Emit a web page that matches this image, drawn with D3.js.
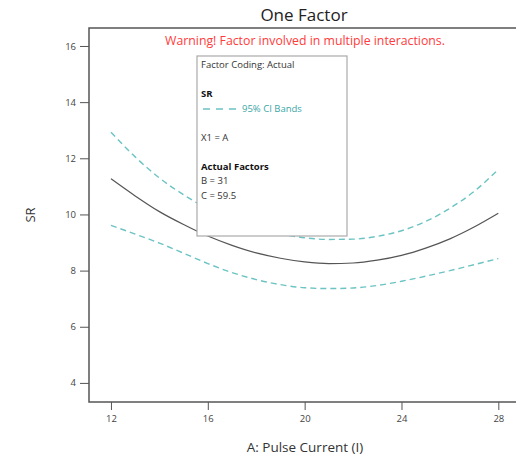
<!DOCTYPE html>
<html lang="en">
<head>
<meta charset="UTF-8" />
<title>One Factor</title>
<script src="https://cdn.jsdelivr.net/npm/d3@7"></script>
<style>
  body { margin: 0; background: #fff; }
  svg { font-family: "Open Sans", "DejaVu Sans", sans-serif; }
</style>
</head>
<body>
<script>
// data
var xValues = [12, 13, 14, 15, 16, 17, 18, 19, 20, 21, 22, 23, 24, 25, 26, 27, 28];
var srMean  = [11.27, 10.66, 10.1, 9.64, 9.23, 8.9, 8.63, 8.44, 8.31, 8.25, 8.27, 8.37, 8.54, 8.8, 9.13, 9.55, 10.04];
var ciUpper = [12.93, 12.05, 11.3, 10.7, 10.2, 9.82, 9.52, 9.31, 9.17, 9.11, 9.12, 9.22, 9.42, 9.75, 10.22, 10.82, 11.6];
var ciLower = [9.61, 9.3, 8.98, 8.62, 8.25, 7.93, 7.68, 7.5, 7.39, 7.36, 7.38, 7.47, 7.62, 7.8, 8.0, 8.21, 8.43];
var xTicks = [12, 16, 20, 24, 28];
var yTicks = [4, 6, 8, 10, 12, 14, 16];
var legendLines = ["Factor Coding: Actual", "SR", "95% CI Bands", "X1 = A", "Actual Factors", "B = 31", "C = 59.5"];

var w = 516, h = 457;
var margin = { top: 28, right: 0, bottom: 55, left: 89 };

var svg = d3.select("body").append("svg")
    .attr("width", w)
    .attr("height", h);

// scales
var xScale = d3.scaleLinear()
    .domain([11.093, 28.73])
    .range([margin.left, w - margin.right]);
var yScale = d3.scaleLinear()
    .domain([3.32, 16.64])
    .range([h - margin.bottom, margin.top]);

// title + warning
svg.append("text")
    .attr("x", 304).attr("y", 21)
    .attr("text-anchor", "middle")
    .attr("font-size", 17)
    .attr("fill", "#222")
    .text("One Factor");
svg.append("text")
    .attr("x", 305).attr("y", 45)
    .attr("text-anchor", "middle")
    .attr("font-size", 12.3)
    .attr("fill", "#ff3b3b")
    .text("Warning! Factor involved in multiple interactions.");

// curves
var line = d3.line()
    .x(function(d) { return xScale(d[0]); })
    .y(function(d) { return yScale(d[1]); })
    .curve(d3.curveMonotoneX);

function pairs(arr) {
  return xValues.map(function(x, i) { return [x, arr[i]]; });
}

[ciUpper, ciLower].forEach(function(s) {
  svg.append("path")
      .datum(pairs(s))
      .attr("d", line)
      .attr("fill", "none")
      .attr("stroke", "#6cc3c3")
      .attr("stroke-width", 1.4)
      .attr("stroke-dasharray", "6,4");
});
svg.append("path")
    .datum(pairs(srMean))
    .attr("d", line)
    .attr("fill", "none")
    .attr("stroke", "#555")
    .attr("stroke-width", 1.2);

// axes
var yAxis = d3.axisLeft(yScale).tickValues(yTicks).tickSize(9).tickPadding(4);
var xAxis = d3.axisBottom(xScale).tickValues(xTicks).tickSize(8).tickPadding(5);

var gy = svg.append("g")
    .attr("transform", "translate(" + margin.left + ",0)")
    .call(yAxis);
var gx = svg.append("g")
    .attr("transform", "translate(0," + (h - margin.bottom) + ")")
    .call(xAxis);

[gx, gy].forEach(function(g) {
  g.select(".domain").remove();
  g.selectAll(".tick line").attr("stroke", "#555");
  g.selectAll(".tick text")
      .attr("font-family", "'Open Sans', sans-serif")
      .attr("font-size", 9.5)
      .attr("fill", "#444");
});

// frame: left, top, bottom
svg.append("path")
    .attr("d", "M" + w + "," + margin.top + "H" + margin.left + "V" + (h - margin.bottom) + "H" + w)
    .attr("fill", "none")
    .attr("stroke", "#555")
    .attr("stroke-width", 1.5);

// axis titles
svg.append("text")
    .attr("x", 305).attr("y", 452)
    .attr("text-anchor", "middle")
    .attr("font-size", 13.5)
    .attr("fill", "#333")
    .text("A: Pulse Current (I)");
svg.append("text")
    .attr("transform", "translate(35,215) rotate(-90)")
    .attr("text-anchor", "middle")
    .attr("font-size", 13)
    .attr("fill", "#333")
    .text("SR");

// legend box
var lg = svg.append("g").attr("transform", "translate(197,56)");
lg.append("rect")
    .attr("width", 150).attr("height", 180)
    .attr("fill", "#fff")
    .attr("stroke", "#aaa")
    .attr("stroke-width", 1.2);

var rows = [
  { t: legendLines[0], y: 12, bold: false },
  { t: legendLines[1], y: 41, bold: true },
  { t: legendLines[3], y: 85, bold: false },
  { t: legendLines[4], y: 114, bold: true },
  { t: legendLines[5], y: 128, bold: false },
  { t: legendLines[6], y: 143, bold: false }
];
rows.forEach(function(r) {
  lg.append("text")
      .attr("x", 4).attr("y", r.y)
      .attr("font-size", 9.5)
      .attr("font-weight", r.bold ? "bold" : "normal")
      .attr("fill", r.bold ? "#111" : "#333")
      .text(r.t);
});
lg.append("line")
    .attr("x1", 6).attr("x2", 44)
    .attr("y1", 53).attr("y2", 53)
    .attr("stroke", "#6cc3c3")
    .attr("stroke-width", 1.3)
    .attr("stroke-dasharray", "7,6");
lg.append("text")
    .attr("x", 45).attr("y", 56)
    .attr("font-size", 9.5)
    .attr("fill", "#3aa6a6")
    .text(legendLines[2]);
</script>
</body>
</html>
